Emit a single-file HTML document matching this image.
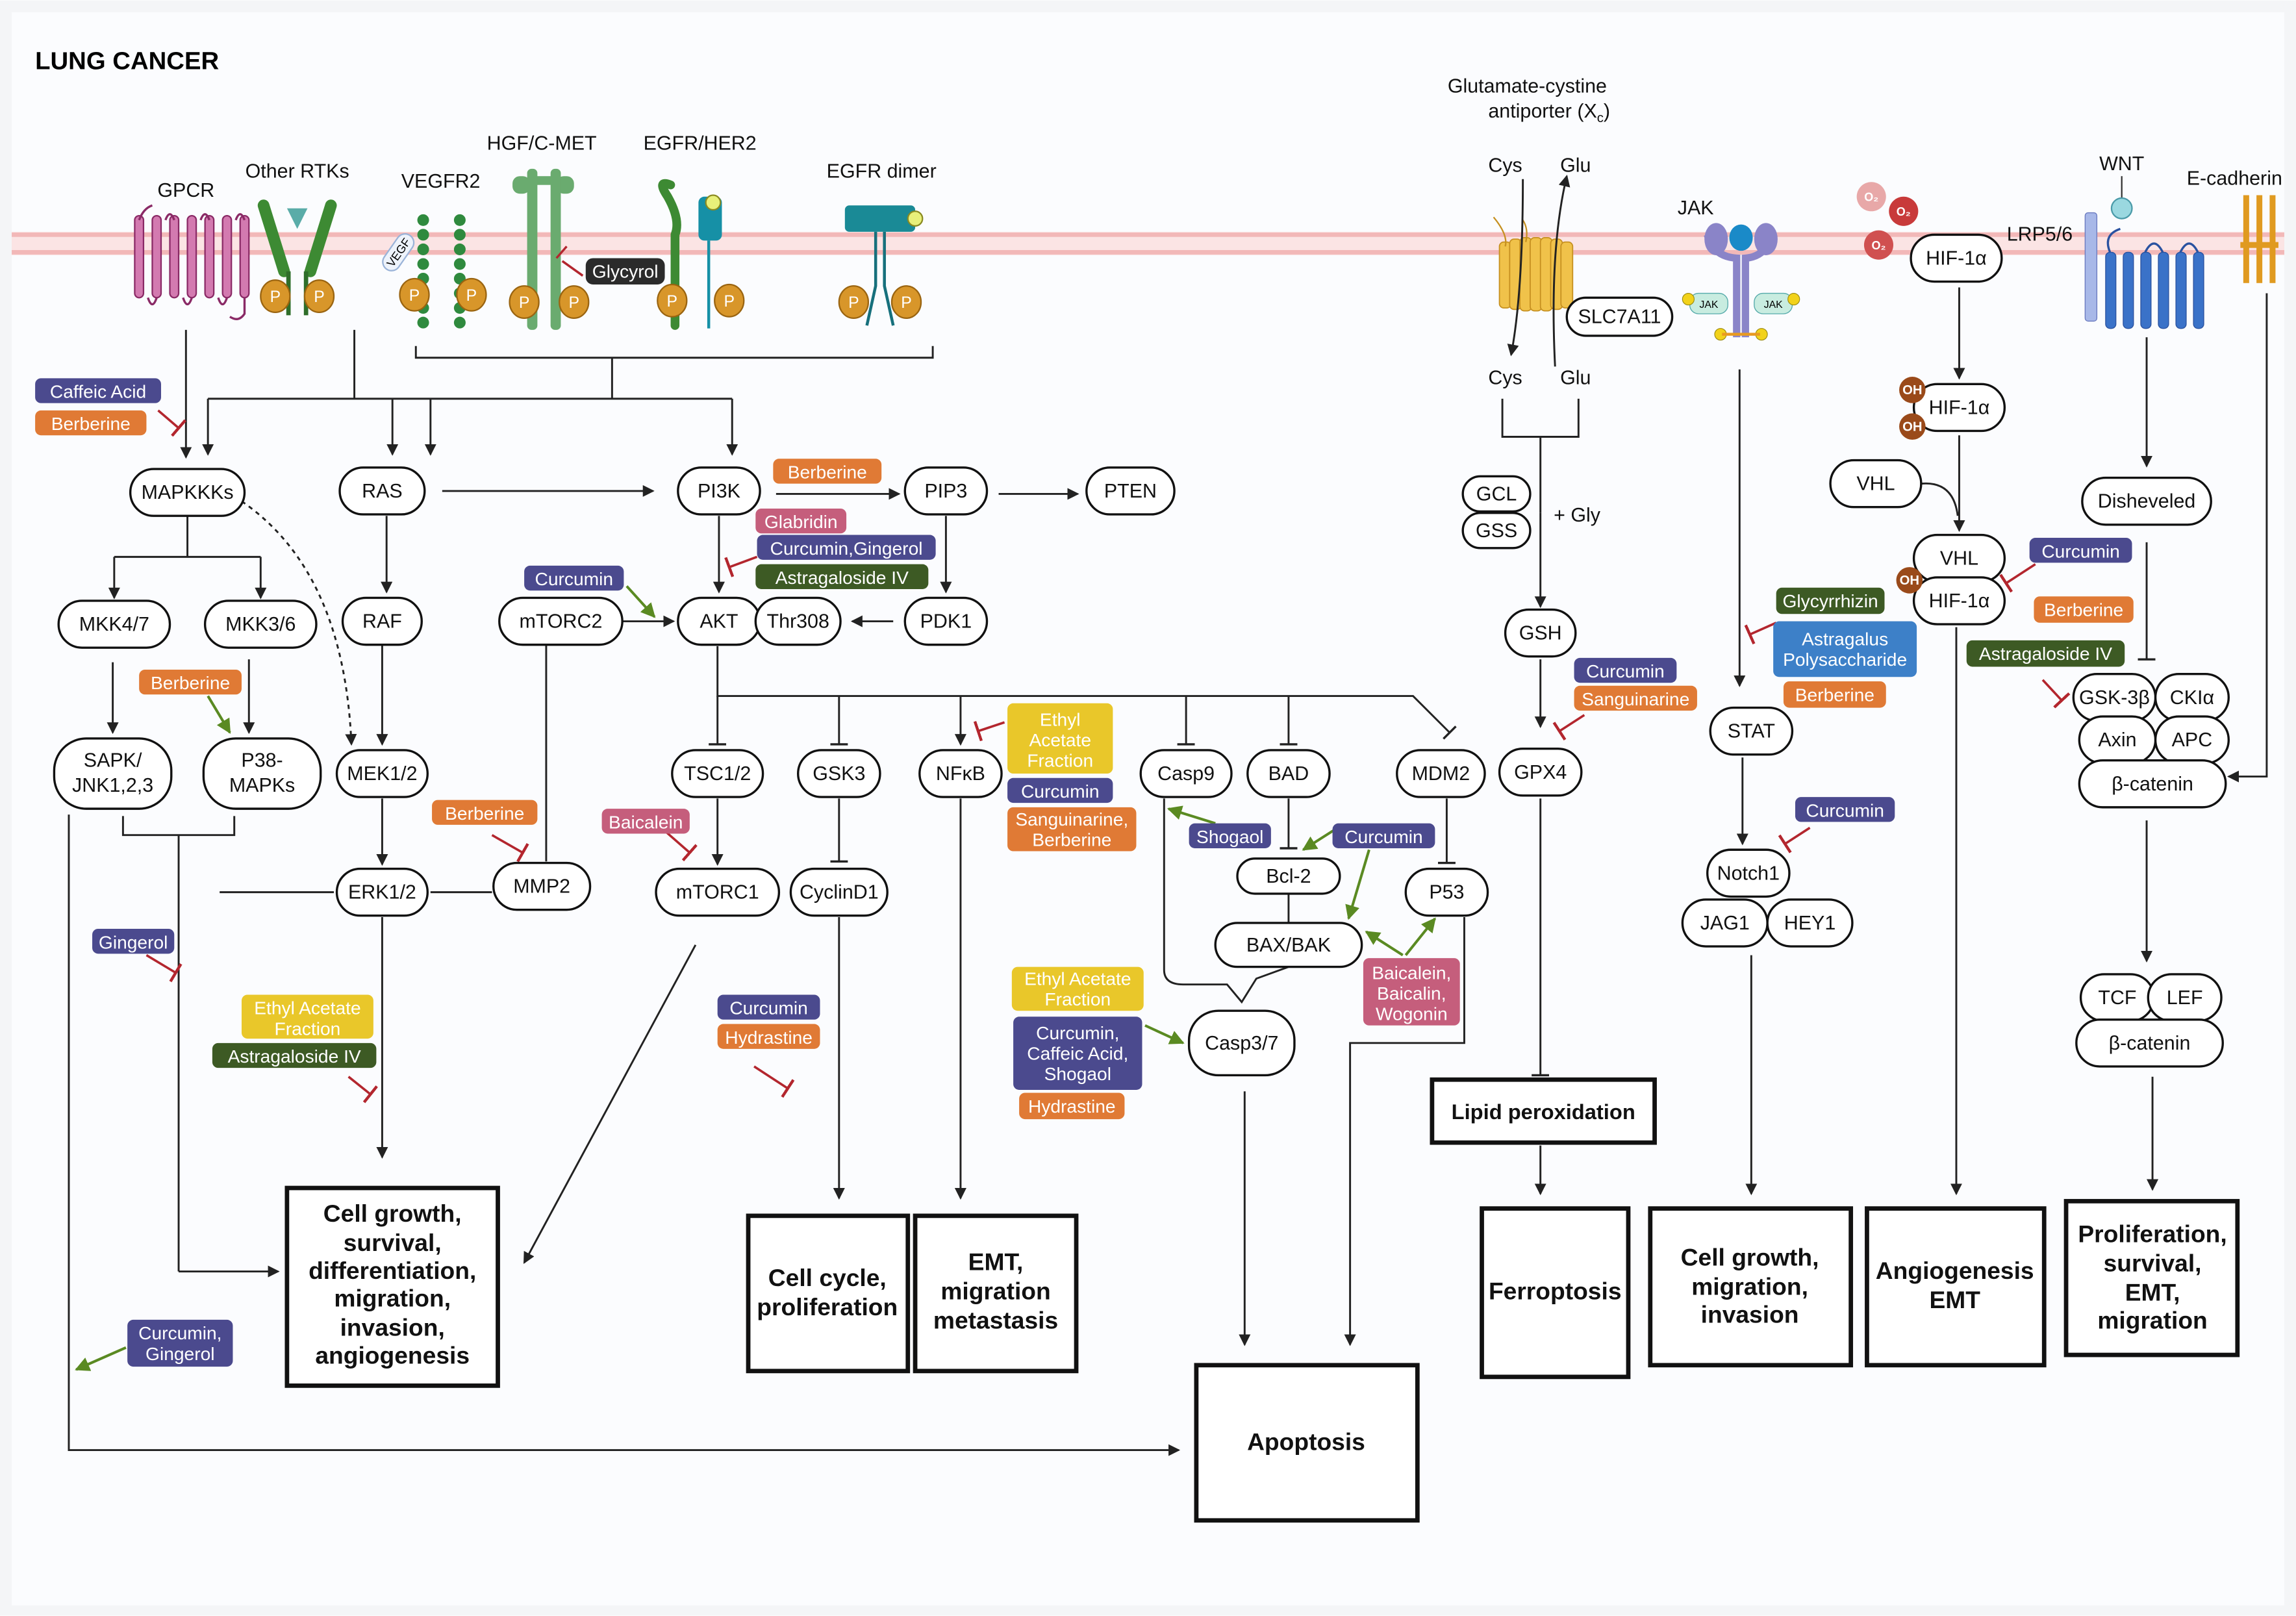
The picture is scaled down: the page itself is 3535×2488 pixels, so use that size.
<!DOCTYPE html>
<html><head><meta charset="utf-8"><style>
html,body{margin:0;padding:0;background:#fff}
svg{display:block}
text{font-family:"Liberation Sans",sans-serif}
.n rect{fill:#fff;stroke:#111;stroke-width:1.5}
.n text{font-size:13.5px;text-anchor:middle;dominant-baseline:central;fill:#111}
.d text{font-size:12.5px;text-anchor:middle;dominant-baseline:central;fill:#fff}
.o rect{fill:#fff;stroke:#111;stroke-width:3}
.o text{font-size:16.5px;font-weight:bold;text-anchor:middle;fill:#111}
.l{fill:none;stroke:#222;stroke-width:1.3}
.r{fill:none;stroke:#b3262e;stroke-width:1.6}
.g{fill:none;stroke:#5a8a22;stroke-width:1.8}
.lb{font-size:13.5px;text-anchor:middle;fill:#111}
</style></head><body>
<svg width="3535" height="2488" viewBox="0 0 1568 1103" xmlns="http://www.w3.org/2000/svg">
<defs>
<marker id="a" markerWidth="8" markerHeight="8" refX="7" refY="4" orient="auto" markerUnits="userSpaceOnUse"><path d="M0,0 L8,4 L0,8 z" fill="#222"/></marker>
<marker id="ag" markerWidth="10" markerHeight="10" refX="9" refY="5" orient="auto" markerUnits="userSpaceOnUse"><path d="M0,0 L10,5 L0,10 z" fill="#5a8a22"/></marker>
<marker id="t" markerWidth="2" markerHeight="12" refX="1" refY="6" orient="auto" markerUnits="userSpaceOnUse"><path d="M1,0 L1,12" stroke="#222" stroke-width="1.5"/></marker>
<marker id="tr" markerWidth="2" markerHeight="14" refX="1" refY="7" orient="auto" markerUnits="userSpaceOnUse"><path d="M1,0 L1,14" stroke="#b3262e" stroke-width="2"/></marker>
</defs>
<rect x="0" y="0" width="1568" height="1103" fill="#f4f5f7"/>
<rect x="8" y="8" width="1552" height="1088" fill="#fbfcfe"/>
<text x="24" y="47" style="font-size:17px;font-weight:bold">LUNG CANCER</text>
<!-- membrane -->
<rect x="8" y="158" width="1552" height="16" fill="#fbe4e4"/>
<line x1="8" y1="160" x2="1560" y2="160" stroke="#f2b8b8" stroke-width="3"/>
<line x1="8" y1="172" x2="1560" y2="172" stroke="#f2b8b8" stroke-width="3"/>

<!-- receptor labels -->
<text class="lb" x="127" y="134">GPCR</text>
<text class="lb" x="203" y="121">Other RTKs</text>
<text class="lb" x="301" y="128">VEGFR2</text>
<text class="lb" x="370" y="102">HGF/C-MET</text>
<text class="lb" x="478" y="102">EGFR/HER2</text>
<text class="lb" x="602" y="121">EGFR dimer</text>
<text class="lb" x="1043" y="63">Glutamate-cystine</text>
<text class="lb" x="1058" y="80">antiporter (X<tspan style="font-size:9px" dy="3">c</tspan><tspan dy="-3">)</tspan></text>
<text class="lb" x="1158" y="146">JAK</text>
<text class="lb" x="1449" y="116">WNT</text>
<text class="lb" x="1526" y="126">E-cadherin</text>
<text class="lb" x="1393" y="164">LRP5/6</text>

<!-- GPCR -->
<g fill="#d37ab0" stroke="#8a2a66" stroke-width="1">
<rect x="92" y="147" width="6" height="56" rx="3"/><rect x="104" y="147" width="6" height="56" rx="3"/><rect x="116" y="147" width="6" height="56" rx="3"/><rect x="128" y="147" width="6" height="56" rx="3"/><rect x="140" y="147" width="6" height="56" rx="3"/><rect x="152" y="147" width="6" height="56" rx="3"/><rect x="164" y="147" width="6" height="56" rx="3"/>
</g>
<path d="M104,140 Q98,142 95,150 M101,203 Q104,212 107,203 M113,150 Q116,142 119,150 M125,203 Q128,212 131,203 M137,150 Q140,142 143,150 M149,203 Q152,212 155,203 M161,150 Q164,142 167,150 M167,203 L167,214 Q163,220 157,216" fill="none" stroke="#8a2a66" stroke-width="1.5"/>
<!-- Other RTKs -->
<path d="M180,140 L194,185 M226,140 L212,185" stroke="#3d8a33" stroke-width="8" stroke-linecap="round"/>
<path d="M197,185 V215 M209,185 V215" stroke="#2f6e2a" stroke-width="3"/>
<path d="M196,142 L210,142 L203,156 z" fill="#5aaca8"/>
<!-- VEGFR2 -->
<g fill="#2f8a3e"><circle cx="289" cy="150" r="4"/><circle cx="289" cy="160" r="4"/><circle cx="289" cy="170" r="4"/><circle cx="289" cy="180" r="4"/><circle cx="289" cy="190" r="4"/><circle cx="289" cy="200" r="4"/><circle cx="289" cy="210" r="4"/><circle cx="289" cy="220" r="4"/><circle cx="314" cy="150" r="4"/><circle cx="314" cy="160" r="4"/><circle cx="314" cy="170" r="4"/><circle cx="314" cy="180" r="4"/><circle cx="314" cy="190" r="4"/><circle cx="314" cy="200" r="4"/><circle cx="314" cy="210" r="4"/><circle cx="314" cy="220" r="4"/></g>
<g transform="translate(272,172) rotate(-55)"><rect x="-14" y="-6" width="28" height="12" rx="6" fill="#eef3fb" stroke="#9ab3d8"/><text x="0" y="3" style="font-size:8px;text-anchor:middle">VEGF</text></g>
<!-- HGF/C-MET -->
<g fill="#6aab6f"><rect x="350" y="120" width="12" height="12" rx="5"/><rect x="380" y="120" width="12" height="12" rx="5"/><rect x="362" y="120" width="18" height="6"/><rect x="360" y="115" width="7" height="110" rx="3"/><rect x="376" y="115" width="7" height="110" rx="3"/></g>
<!-- EGFR/HER2 -->
<path d="M458,126 Q448,122 456,134 Q465,150 461,160 V222" fill="none" stroke="#3d8a33" stroke-width="6" stroke-linecap="round"/>
<rect x="477" y="134" width="16" height="30" rx="4" fill="#1690a6"/><circle cx="487" cy="138" r="5" fill="#e8f07a" stroke="#8a8a20"/>
<line x1="484" y1="164" x2="484" y2="224" stroke="#1690a6" stroke-width="2"/>
<!-- EGFR dimer -->
<rect x="577" y="140" width="48" height="18" rx="3" fill="#1a8a96"/><circle cx="625" cy="149" r="5" fill="#e8f07a" stroke="#8a8a20"/>
<path d="M598,158 V195 L592,222 M604,158 V195 L610,222" stroke="#17707c" stroke-width="2" fill="none"/>
<!-- P circles -->
<g fill="#d8962a" stroke="#9a6410" stroke-width="1"><ellipse cx="188" cy="202" rx="10" ry="11"/><ellipse cx="218" cy="202" rx="10" ry="11"/><ellipse cx="283" cy="201" rx="10" ry="11"/><ellipse cx="322" cy="201" rx="10" ry="11"/><ellipse cx="358" cy="206" rx="10" ry="11"/><ellipse cx="392" cy="206" rx="10" ry="11"/><ellipse cx="459" cy="205" rx="10" ry="11"/><ellipse cx="498" cy="205" rx="10" ry="11"/><ellipse cx="583" cy="206" rx="10" ry="11"/><ellipse cx="619" cy="206" rx="10" ry="11"/></g>
<g style="font-size:11px;text-anchor:middle" fill="#fff"><text x="188" y="206">P</text><text x="218" y="206">P</text><text x="283" y="205">P</text><text x="322" y="205">P</text><text x="358" y="210">P</text><text x="392" y="210">P</text><text x="459" y="209">P</text><text x="498" y="209">P</text><text x="583" y="210">P</text><text x="619" y="210">P</text></g>
<!-- Glycyrol -->
<path d="M384,178 L398,188" class="r"/><line x1="380" y1="176" x2="387" y2="168" stroke="#b3262e" stroke-width="1.5"/>
<g class="d"><rect x="400" y="176" width="54" height="18" rx="5" fill="#2b2b2b"/><text x="427" y="185">Glycyrol</text></g>

<!-- xCT transporter -->
<g fill="#f0c24a" stroke="#c69020" stroke-width="0.8"><rect x="1024" y="165" width="8" height="45" rx="3"/><rect x="1031" y="163" width="8" height="48" rx="3"/><rect x="1038" y="162" width="8" height="50" rx="3"/><rect x="1045" y="162" width="8" height="50" rx="3"/><rect x="1052" y="162" width="8" height="50" rx="3"/><rect x="1059" y="163" width="8" height="48" rx="3"/><rect x="1066" y="165" width="8" height="45" rx="3"/></g>
<path d="M1020,148 Q1030,160 1028,168 M1040,150 Q1044,156 1042,165" stroke="#c69020" fill="none"/>
<path d="M1040,122 Q1040,200 1032,242" class="l" marker-end="url(#a)"/>
<path d="M1062,250 Q1058,170 1070,120" class="l" marker-end="url(#a)"/>
<text class="lb" x="1028" y="117">Cys</text><text class="lb" x="1076" y="117">Glu</text>
<text class="lb" x="1028" y="262">Cys</text><text class="lb" x="1076" y="262">Glu</text>
<!-- JAK receptor -->
<path d="M1166,160 Q1170,175 1186,176 V230 M1210,160 Q1206,175 1192,176 V230" stroke="#8a84c8" stroke-width="5" fill="none"/>
<ellipse cx="1172" cy="163" rx="8" ry="11" fill="#8a84c8"/><ellipse cx="1206" cy="163" rx="8" ry="11" fill="#8a84c8"/>
<ellipse cx="1189" cy="162" rx="8" ry="9" fill="#1a8ac8"/>
<rect x="1154" y="200" width="26" height="14" rx="6" fill="#c8ece0" stroke="#5aa" stroke-width="0.6"/><rect x="1198" y="200" width="26" height="14" rx="6" fill="#c8ece0" stroke="#5aa" stroke-width="0.6"/>
<text x="1167" y="210" style="font-size:7px;text-anchor:middle">JAK</text><text x="1211" y="210" style="font-size:7px;text-anchor:middle">JAK</text>
<g fill="#f2d21a" stroke="#9a8a10" stroke-width="0.5"><circle cx="1153" cy="204" r="4"/><circle cx="1225" cy="204" r="4"/><circle cx="1175" cy="228" r="4"/><circle cx="1203" cy="228" r="4"/></g>
<line x1="1176" y1="228" x2="1202" y2="228" stroke="#e89a20" stroke-width="2"/>
<!-- O2 -->
<g style="font-size:8px;text-anchor:middle;font-weight:bold" fill="#fff">
<ellipse cx="1278" cy="134" rx="10" ry="10" fill="#e8a8a8"/><text x="1278" y="137">O₂</text>
<ellipse cx="1300" cy="144" rx="10" ry="10" fill="#c83a3a"/><text x="1300" y="147">O₂</text>
<ellipse cx="1283" cy="167" rx="10" ry="10" fill="#d05050"/><text x="1283" y="170">O₂</text></g>
<!-- LRP/Frizzled -->
<rect x="1424" y="145" width="8" height="74" rx="2" fill="#a8b8e8" stroke="#6a7ac0" stroke-width="0.6"/>
<g fill="#3a72c8" stroke="#2a52a0" stroke-width="0.6"><rect x="1438" y="172" width="7" height="52" rx="3"/><rect x="1450" y="172" width="7" height="52" rx="3"/><rect x="1462" y="172" width="7" height="52" rx="3"/><rect x="1474" y="172" width="7" height="52" rx="3"/><rect x="1486" y="172" width="7" height="52" rx="3"/><rect x="1498" y="172" width="7" height="52" rx="3"/></g>
<path d="M1441,172 Q1436,160 1448,156 M1465,172 Q1471,160 1477,172 M1489,172 Q1495,160 1501,172" stroke="#2a52a0" fill="none" stroke-width="1.5"/>
<line x1="1449" y1="120" x2="1449" y2="135" stroke="#333"/><circle cx="1449" cy="142" r="7" fill="#9ad8e0" stroke="#4a9aa8"/>
<!-- E-cadherin -->
<g fill="#e09a20"><rect x="1532" y="133" width="4" height="60"/><rect x="1541" y="133" width="4" height="60"/><rect x="1550" y="133" width="4" height="60"/><rect x="1530" y="165" width="26" height="4"/></g>

<!-- connectors left -->
<path d="M127,225 V312" class="l" marker-end="url(#a)"/>
<path d="M242,225 V272 M142,272 H500 M284,236 V244 H637 V236 M418,244 V272" class="l"/>
<path d="M142,272 V310" class="l" marker-end="url(#a)"/>
<path d="M268,272 V310" class="l" marker-end="url(#a)"/>
<path d="M294,272 V310" class="l" marker-end="url(#a)"/>
<path d="M500,272 V310" class="l" marker-end="url(#a)"/>
<path d="M108,280 L122,292" class="r" marker-end="url(#tr)"/>
<path d="M165,342 Q235,390 240,508" class="l" stroke-dasharray="3,3" marker-end="url(#a)"/>
<path d="M128,352 V380 M78,380 H178" class="l"/>
<path d="M78,380 V408" class="l" marker-end="url(#a)"/>
<path d="M178,380 V408" class="l" marker-end="url(#a)"/>
<path d="M302,335 H446" class="l" marker-end="url(#a)"/>
<path d="M264,352 V404" class="l" marker-end="url(#a)"/>
<path d="M261,440 V508" class="l" marker-end="url(#a)"/>
<path d="M77,452 V500" class="l" marker-end="url(#a)"/>
<path d="M170,450 V500" class="l" marker-end="url(#a)"/>
<path d="M142,475 L157,500" class="g" marker-end="url(#ag)"/>
<path d="M84,557 V570 H160 V557 M122,570 V868" class="l"/>
<path d="M122,868 H190" class="l" marker-end="url(#a)"/>
<path d="M100,652 L120,664" class="r" marker-end="url(#tr)"/>
<path d="M47,556 V990 H805" class="l" marker-end="url(#a)"/>
<path d="M86,920 L52,935" class="g" marker-end="url(#ag)"/>
<path d="M261,545 V590" class="l" marker-end="url(#a)"/>
<path d="M150,609 H228 M294,609 H336 M373,440 V588" class="l"/>
<path d="M336,570 L357,582" class="r" marker-end="url(#tr)"/>
<path d="M261,626 V790" class="l" marker-end="url(#a)"/>
<path d="M238,735 L253,747" class="r" marker-end="url(#tr)"/>
<path d="M425,424 H460" class="l" marker-end="url(#a)"/>
<path d="M428,400 L447,421" class="g" marker-end="url(#ag)"/>
<path d="M491,352 V404" class="l" marker-end="url(#a)"/>
<path d="M517,380 L498,387" class="r" marker-end="url(#tr)"/>
<path d="M530,337 H614" class="l" marker-end="url(#a)"/>
<path d="M682,337 H736" class="l" marker-end="url(#a)"/>
<path d="M646,352 V404" class="l" marker-end="url(#a)"/>
<path d="M610,424 H582" class="l" marker-end="url(#a)"/>
<path d="M490,441 V475 H965 L990,500" class="l" marker-end="url(#t)"/>
<path d="M490,475 V508" class="l" marker-end="url(#t)"/>
<path d="M573,475 V508" class="l" marker-end="url(#t)"/>
<path d="M656,475 V508" class="l" marker-end="url(#a)"/>
<path d="M810,475 V508" class="l" marker-end="url(#t)"/>
<path d="M880,475 V508" class="l" marker-end="url(#t)"/>
<path d="M686,493 L668,499" class="r" marker-end="url(#tr)"/>
<path d="M490,545 V590" class="l" marker-end="url(#a)"/>
<path d="M455,568 L471,582" class="r" marker-end="url(#tr)"/>
<path d="M573,545 V588" class="l" marker-end="url(#t)"/>
<path d="M475,645 L358,862" class="l" marker-end="url(#a)"/>
<path d="M573,626 V818" class="l" marker-end="url(#a)"/>
<path d="M515,728 L538,743" class="r" marker-end="url(#tr)"/>
<path d="M656,545 V818" class="l" marker-end="url(#a)"/>
<path d="M795,545 V662 Q795,672 808,672 H838 L848,684 L858,668 Q880,660 880,660" class="l"/>
<path d="M830,562 L798,552" class="g" marker-end="url(#ag)"/>
<path d="M880,545 V579" class="l" marker-end="url(#t)"/>
<path d="M912,566 L890,580" class="g" marker-end="url(#ag)"/>
<path d="M935,580 L921,627" class="g" marker-end="url(#ag)"/>
<path d="M880,610 V630" class="l"/>
<path d="M958,652 L933,636" class="g" marker-end="url(#ag)"/>
<path d="M960,652 L980,627" class="g" marker-end="url(#ag)"/>
<path d="M988,545 V589" class="l" marker-end="url(#t)"/>
<path d="M1000,626 V712 H922 V918" class="l" marker-end="url(#a)"/>
<path d="M850,745 V918" class="l" marker-end="url(#a)"/>
<path d="M782,700 L808,712" class="g" marker-end="url(#ag)"/>
<!-- connectors right -->
<path d="M1026,272 V298 H1078 V272 M1052,298 V350" class="l"/>
<path d="M1052,350 V414" class="l" marker-end="url(#a)"/>
<path d="M1052,450 V496" class="l" marker-end="url(#a)"/>
<path d="M1082,488 L1065,499" class="r" marker-end="url(#tr)"/>
<path d="M1052,545 V734" class="l" marker-end="url(#t)"/>
<path d="M1052,782 V815" class="l" marker-end="url(#a)"/>
<path d="M1188,252 V468" class="l" marker-end="url(#a)"/>
<path d="M1213,425 L1195,433" class="r" marker-end="url(#tr)"/>
<path d="M1190,517 V576" class="l" marker-end="url(#a)"/>
<path d="M1236,565 L1219,576" class="r" marker-end="url(#tr)"/>
<path d="M1196,652 V815" class="l" marker-end="url(#a)"/>
<path d="M1338,196 V258" class="l" marker-end="url(#a)"/>
<path d="M1338,297 V362" class="l" marker-end="url(#a)"/>
<path d="M1312,330 Q1334,328 1337,352" class="l"/>
<path d="M1336,428 V815" class="l" marker-end="url(#a)"/>
<path d="M1390,385 L1370,398" class="r" marker-end="url(#tr)"/>
<path d="M1395,464 L1408,478" class="r" marker-end="url(#tr)"/>
<path d="M1466,230 V318" class="l" marker-end="url(#a)"/>
<path d="M1466,370 V450" class="l" marker-end="url(#t)"/>
<path d="M1548,200 V530 H1522" class="l" marker-end="url(#a)"/>
<path d="M1466,560 V656" class="l" marker-end="url(#a)"/>
<path d="M1470,735 V812" class="l" marker-end="url(#a)"/>

<!-- nodes -->
<g class="n">
<rect x="89" y="320" width="78" height="32" rx="16"/><text x="128" y="336">MAPKKKs</text>
<rect x="232" y="319" width="58" height="32" rx="16"/><text x="261" y="335">RAS</text>
<rect x="463" y="319" width="56" height="32" rx="16"/><text x="491" y="335">PI3K</text>
<rect x="618" y="319" width="56" height="32" rx="16"/><text x="646" y="335">PIP3</text>
<rect x="742" y="319" width="60" height="32" rx="16"/><text x="772" y="335">PTEN</text>
<rect x="40" y="410" width="76" height="32" rx="16"/><text x="78" y="426">MKK4/7</text>
<rect x="140" y="410" width="76" height="32" rx="16"/><text x="178" y="426">MKK3/6</text>
<rect x="234" y="408" width="54" height="32" rx="16"/><text x="261" y="424">RAF</text>
<rect x="341" y="408" width="84" height="32" rx="16"/><text x="383" y="424">mTORC2</text>
<rect x="463" y="408" width="56" height="32" rx="16"/><text x="491" y="424">AKT</text>
<rect x="516" y="408" width="58" height="32" rx="16"/><text x="545" y="424">Thr308</text>
<rect x="618" y="408" width="56" height="32" rx="16"/><text x="646" y="424">PDK1</text>
<rect x="37" y="504" width="80" height="48" rx="22"/><text x="77" y="519">SAPK/</text><text x="77" y="536">JNK1,2,3</text>
<rect x="139" y="504" width="80" height="48" rx="22"/><text x="179" y="519">P38-</text><text x="179" y="536">MAPKs</text>
<rect x="230" y="512" width="62" height="32" rx="16"/><text x="261" y="528">MEK1/2</text>
<rect x="230" y="593" width="62" height="32" rx="16"/><text x="261" y="609">ERK1/2</text>
<rect x="337" y="589" width="66" height="32" rx="16"/><text x="370" y="605">MMP2</text>
<rect x="459" y="512" width="62" height="32" rx="16"/><text x="490" y="528">TSC1/2</text>
<rect x="545" y="512" width="56" height="32" rx="16"/><text x="573" y="528">GSK3</text>
<rect x="628" y="512" width="56" height="32" rx="16"/><text x="656" y="528">NFκB</text>
<rect x="448" y="593" width="84" height="32" rx="16"/><text x="490" y="609">mTORC1</text>
<rect x="540" y="593" width="66" height="32" rx="16"/><text x="573" y="609">CyclinD1</text>
<rect x="779" y="512" width="62" height="32" rx="16"/><text x="810" y="528">Casp9</text>
<rect x="852" y="512" width="56" height="32" rx="16"/><text x="880" y="528">BAD</text>
<rect x="954" y="512" width="60" height="32" rx="16"/><text x="984" y="528">MDM2</text>
<rect x="845" y="586" width="70" height="24" rx="12"/><text x="880" y="598">Bcl-2</text>
<rect x="830" y="630" width="100" height="30" rx="15"/><text x="880" y="645">BAX/BAK</text>
<rect x="960" y="593" width="56" height="32" rx="16"/><text x="988" y="609">P53</text>
<rect x="812" y="690" width="72" height="44" rx="20"/><text x="848" y="712">Casp3/7</text>
<rect x="999" y="325" width="46" height="24" rx="12"/><text x="1022" y="337">GCL</text>
<rect x="999" y="350" width="46" height="24" rx="12"/><text x="1022" y="362">GSS</text>
<rect x="1028" y="416" width="48" height="32" rx="16"/><text x="1052" y="432">GSH</text>
<rect x="1024" y="511" width="56" height="32" rx="16"/><text x="1052" y="527">GPX4</text>
<rect x="1070" y="203" width="72" height="26" rx="13"/><text x="1106" y="216">SLC7A11</text>
<rect x="1168" y="483" width="56" height="32" rx="16"/><text x="1196" y="499">STAT</text>
<rect x="1166" y="580" width="56" height="32" rx="16"/><text x="1194" y="596">Notch1</text>
<rect x="1149" y="614" width="58" height="32" rx="16"/><text x="1178" y="630">JAG1</text>
<rect x="1207" y="614" width="58" height="32" rx="16"/><text x="1236" y="630">HEY1</text>
<rect x="1305" y="160" width="62" height="32" rx="16"/><text x="1336" y="176">HIF-1α</text>
<rect x="1307" y="262" width="62" height="32" rx="16"/><text x="1338" y="278">HIF-1α</text>
<rect x="1250" y="314" width="62" height="32" rx="16"/><text x="1281" y="330">VHL</text>
<rect x="1307" y="365" width="62" height="32" rx="16"/><text x="1338" y="381">VHL</text>
<rect x="1307" y="394" width="62" height="32" rx="16"/><text x="1338" y="410">HIF-1α</text>
<rect x="1422" y="326" width="88" height="32" rx="16"/><text x="1466" y="342">Disheveled</text>
<rect x="1416" y="460" width="56" height="32" rx="16"/><text x="1444" y="476">GSK-3β</text>
<rect x="1472" y="460" width="50" height="32" rx="16"/><text x="1497" y="476">CKIα</text>
<rect x="1420" y="489" width="52" height="32" rx="16"/><text x="1446" y="505">Axin</text>
<rect x="1472" y="489" width="50" height="32" rx="16"/><text x="1497" y="505">APC</text>
<rect x="1420" y="519" width="100" height="32" rx="16"/><text x="1470" y="535">β-catenin</text>
<rect x="1421" y="665" width="50" height="32" rx="16"/><text x="1446" y="681">TCF</text>
<rect x="1467" y="665" width="50" height="32" rx="16"/><text x="1492" y="681">LEF</text>
<rect x="1418" y="696" width="100" height="32" rx="16"/><text x="1468" y="712">β-catenin</text>
</g>
<text class="lb" x="1077" y="356">+ Gly</text>
<g style="font-size:9px;font-weight:bold;text-anchor:middle" fill="#fff">
<circle cx="1306" cy="266" r="9" fill="#9a4a1a"/><text x="1306" y="269">OH</text>
<circle cx="1306" cy="291" r="9" fill="#9a4a1a"/><text x="1306" y="294">OH</text>
<circle cx="1304" cy="396" r="9" fill="#9a4a1a"/><text x="1304" y="399">OH</text></g>

<!-- drugs -->
<g class="d">
<rect x="24" y="258" width="86" height="17" rx="4" fill="#4b4a8e"/><text x="67" y="267">Caffeic Acid</text>
<rect x="24" y="280" width="76" height="17" rx="4" fill="#e07a35"/><text x="62" y="289">Berberine</text>
<rect x="528" y="313" width="74" height="17" rx="4" fill="#e07a35"/><text x="565" y="322">Berberine</text>
<rect x="516" y="347" width="62" height="17" rx="4" fill="#c55e7c"/><text x="547" y="356">Glabridin</text>
<rect x="517" y="365" width="122" height="17" rx="4" fill="#4b4a8e"/><text x="578" y="374">Curcumin,Gingerol</text>
<rect x="516" y="385" width="118" height="17" rx="4" fill="#3d5a24"/><text x="575" y="394">Astragaloside IV</text>
<rect x="358" y="386" width="68" height="17" rx="4" fill="#4b4a8e"/><text x="392" y="395">Curcumin</text>
<rect x="95" y="457" width="70" height="17" rx="4" fill="#e07a35"/><text x="130" y="466">Berberine</text>
<rect x="295" y="546" width="72" height="17" rx="4" fill="#e07a35"/><text x="331" y="555">Berberine</text>
<rect x="411" y="552" width="60" height="17" rx="4" fill="#c55e7c"/><text x="441" y="561">Baicalein</text>
<rect x="63" y="634" width="56" height="17" rx="4" fill="#4b4a8e"/><text x="91" y="643">Gingerol</text>
<rect x="165" y="679" width="90" height="30" rx="4" fill="#e9c72a"/><text x="210" y="688" fill="#222">Ethyl Acetate</text><text x="210" y="702" fill="#222">Fraction</text>
<rect x="145" y="712" width="112" height="17" rx="4" fill="#3d5a24"/><text x="201" y="721">Astragaloside IV</text>
<rect x="688" y="480" width="72" height="48" rx="4" fill="#e9c72a"/><text x="724" y="491" fill="#222">Ethyl</text><text x="724" y="505" fill="#222">Acetate</text><text x="724" y="519" fill="#222">Fraction</text>
<rect x="688" y="531" width="72" height="17" rx="4" fill="#4b4a8e"/><text x="724" y="540">Curcumin</text>
<rect x="688" y="551" width="88" height="30" rx="4" fill="#e07a35"/><text x="732" y="559">Sanguinarine,</text><text x="732" y="573">Berberine</text>
<rect x="812" y="562" width="56" height="17" rx="4" fill="#4b4a8e"/><text x="840" y="571">Shogaol</text>
<rect x="910" y="562" width="70" height="17" rx="4" fill="#4b4a8e"/><text x="945" y="571">Curcumin</text>
<rect x="490" y="679" width="70" height="17" rx="4" fill="#4b4a8e"/><text x="525" y="688">Curcumin</text>
<rect x="490" y="699" width="70" height="17" rx="4" fill="#e07a35"/><text x="525" y="708">Hydrastine</text>
<rect x="691" y="660" width="90" height="30" rx="4" fill="#e9c72a"/><text x="736" y="668" fill="#222">Ethyl Acetate</text><text x="736" y="682" fill="#222">Fraction</text>
<rect x="692" y="694" width="88" height="50" rx="4" fill="#4b4a8e"/><text x="736" y="705">Curcumin,</text><text x="736" y="719">Caffeic Acid,</text><text x="736" y="733">Shogaol</text>
<rect x="696" y="746" width="72" height="18" rx="4" fill="#e07a35"/><text x="732" y="755">Hydrastine</text>
<rect x="931" y="654" width="66" height="46" rx="4" fill="#c55e7c"/><text x="964" y="664">Baicalein,</text><text x="964" y="678">Baicalin,</text><text x="964" y="692">Wogonin</text>
<rect x="87" y="901" width="72" height="32" rx="4" fill="#4b4a8e"/><text x="123" y="910">Curcumin,</text><text x="123" y="924">Gingerol</text>
<rect x="1075" y="449" width="70" height="17" rx="4" fill="#4b4a8e"/><text x="1110" y="458">Curcumin</text>
<rect x="1075" y="468" width="84" height="17" rx="4" fill="#e07a35"/><text x="1117" y="477">Sanguinarine</text>
<rect x="1213" y="401" width="74" height="18" rx="4" fill="#3d5a24"/><text x="1250" y="410">Glycyrrhizin</text>
<rect x="1211" y="424" width="98" height="38" rx="4" fill="#3d80c8"/><text x="1260" y="436">Astragalus</text><text x="1260" y="450">Polysaccharide</text>
<rect x="1218" y="465" width="70" height="18" rx="4" fill="#e07a35"/><text x="1253" y="474">Berberine</text>
<rect x="1226" y="544" width="68" height="17" rx="4" fill="#4b4a8e"/><text x="1260" y="553">Curcumin</text>
<rect x="1386" y="367" width="70" height="17" rx="4" fill="#4b4a8e"/><text x="1421" y="376">Curcumin</text>
<rect x="1389" y="407" width="68" height="18" rx="4" fill="#e07a35"/><text x="1423" y="416">Berberine</text>
<rect x="1343" y="437" width="108" height="18" rx="4" fill="#3d5a24"/><text x="1397" y="446">Astragaloside IV</text>
</g>

<!-- outcomes -->
<g class="o">
<rect x="196" y="811" width="144" height="135"/><text x="268" y="834">Cell growth,</text><text x="268" y="854">survival,</text><text x="268" y="873">differentiation,</text><text x="268" y="892">migration,</text><text x="268" y="912">invasion,</text><text x="268" y="931">angiogenesis</text>
<rect x="511" y="830" width="109" height="106"/><text x="565" y="878">Cell cycle,</text><text x="565" y="898">proliferation</text>
<rect x="625" y="830" width="110" height="106"/><text x="680" y="867">EMT,</text><text x="680" y="887">migration</text><text x="680" y="907">metastasis</text>
<rect x="817" y="932" width="151" height="106"/><text x="892" y="990">Apoptosis</text>
<rect x="978" y="737" width="152" height="43"/><text x="1054" y="764" style="font-size:14.5px">Lipid peroxidation</text>
<rect x="1012" y="825" width="100" height="115"/><text x="1062" y="887">Ferroptosis</text>
<rect x="1127" y="825" width="137" height="107"/><text x="1195" y="864">Cell growth,</text><text x="1195" y="884">migration,</text><text x="1195" y="903">invasion</text>
<rect x="1275" y="825" width="121" height="107"/><text x="1335" y="873">Angiogenesis</text><text x="1335" y="893">EMT</text>
<rect x="1411" y="820" width="117" height="105"/><text x="1470" y="848">Proliferation,</text><text x="1470" y="868">survival,</text><text x="1470" y="888">EMT,</text><text x="1470" y="907">migration</text>
</g>
</svg>
</body></html>
